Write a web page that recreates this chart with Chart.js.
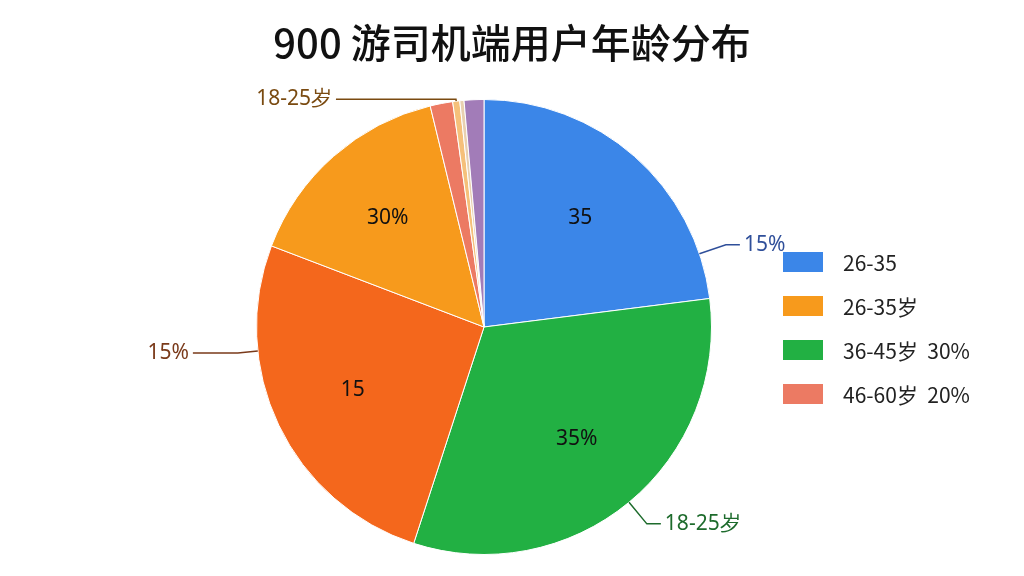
<!DOCTYPE html>
<html lang="zh">
<head>
<meta charset="UTF-8">
<title>900 游司机端用户年龄分布</title>
<style>
body { margin: 0; background: #fff; font-family: "Noto Sans CJK SC", "Noto Sans", sans-serif; }
#wrap { position: relative; width: 1024px; height: 576px; }
h1 { position: absolute; top: 12px; left: 0; width: 1024px; margin: 0; text-align: center; font-size: 40px; font-weight: 500; color: #111; }
#legend { position: absolute; left: 783px; top: 240px; }
.item { display: flex; align-items: center; height: 44px; font-size: 21px; color: #222; white-space: pre; }
.sw { width: 40px; height: 20px; margin-right: 20px; }
</style>
</head>
<body>
<div id="wrap">
<h1>900 游司机端用户年龄分布</h1>
<canvas id="pie" width="1024" height="576"></canvas>
<div id="legend"></div>
</div>
<script src="https://cdn.jsdelivr.net/npm/chart.js"></script>
<script>
// slices clockwise from 12 o'clock
const sliceValues = [23, 32, 25.8, 15.4, 1.6, 0.5, 0.3, 1.4];
const sliceColors = ['#3b86e8', '#22b043', '#f4671c', '#f79a1c', '#ec7a63', '#f5c07a', '#e8d0b0', '#a27cb8'];
const innerLabels = ['35', '35%', '15', '30%', '', '', '', ''];
const legendLabels = ['26-35', '26-35岁', '36-45岁  30%', '46-60岁  20%'];
const legendColors = ['#3b86e8', '#f79a1c', '#22b043', '#ec7a63'];
// outer callouts: slice index, position within slice, text, colour, side, elbow length, radial length
const callouts = [
    { slice: 0, frac: 0.86, text: '15%', color: '#2f4f9a', side: 1, len: 14, out: 28 },
    { slice: 1, frac: 0.5, text: '18-25岁', color: '#1d6b2c', side: 1, len: 14, out: 28 },
    { slice: 2, frac: 0.71, text: '15%', color: '#7a3a1a', side: -1, len: 45, out: 20 },
    { slice: 5, frac: 0.5, text: '18-25岁', color: '#7a4a10', side: -1, len: 120, out: 2 }
];

const legend = document.getElementById('legend');
legendLabels.forEach((l, i) => {
    legend.innerHTML += '<div class="item"><span class="sw" style="background:' + legendColors[i] + '"></span>' + l + '</div>';
});

const labelPlugin = {
    id: 'labels',
    afterDatasetsDraw(chart) {
        const ctx = chart.ctx;
        const arcs = chart.getDatasetMeta(0).data;
        ctx.save();
        ctx.font = '21px "Noto Sans", sans-serif';
        ctx.fillStyle = '#111';
        ctx.textAlign = 'center';
        ctx.textBaseline = 'middle';
        arcs.forEach((arc, i) => {
            if (!innerLabels[i]) return;
            const a = (arc.startAngle + arc.endAngle) / 2;
            const r = arc.outerRadius * 0.64;
            ctx.fillText(innerLabels[i], arc.x + Math.cos(a) * r, arc.y + Math.sin(a) * r);
        });
        callouts.forEach(c => {
            const arc = arcs[c.slice];
            const a = arc.startAngle + (arc.endAngle - arc.startAngle) * c.frac;
            const r = arc.outerRadius;
            const x0 = arc.x + Math.cos(a) * r, y0 = arc.y + Math.sin(a) * r;
            const x1 = arc.x + Math.cos(a) * (r + c.out), y1 = arc.y + Math.sin(a) * (r + c.out);
            const x2 = x1 + c.side * c.len;
            ctx.strokeStyle = c.color;
            ctx.lineWidth = 1.5;
            ctx.beginPath();
            ctx.moveTo(x0, y0); ctx.lineTo(x1, y1); ctx.lineTo(x2, y1);
            ctx.stroke();
            ctx.fillStyle = c.color;
            ctx.textAlign = c.side > 0 ? 'left' : 'right';
            ctx.fillText(c.text, x2 + c.side * 4, y1);
        });
        ctx.restore();
    }
};

new Chart(document.getElementById('pie'), {
    type: 'pie',
    data: {
        labels: sliceValues.map((v, i) => 'slice ' + i),
        datasets: [{
            data: sliceValues,
            backgroundColor: sliceColors,
            borderColor: '#ffffff',
            borderWidth: 1
        }]
    },
    options: {
        responsive: false,
        animation: false,
        layout: { padding: { top: 99, bottom: 21, left: 256, right: 312 } },
        plugins: { legend: { display: false }, tooltip: { enabled: false } }
    },
    plugins: [labelPlugin]
});
</script>
</body>
</html>
